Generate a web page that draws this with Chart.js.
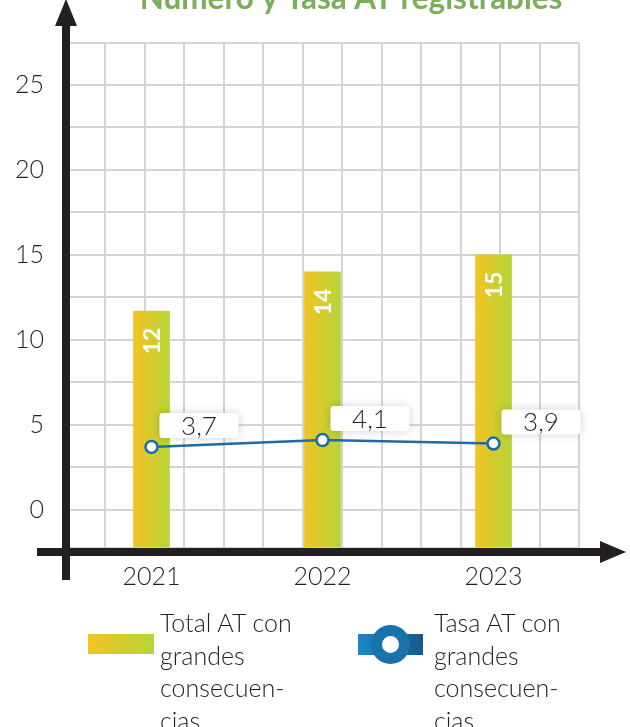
<!DOCTYPE html>
<html>
<head>
<meta charset="utf-8">
<script src="https://cdn.jsdelivr.net/npm/chart.js@4.4.0/dist/chart.umd.min.js"></script>
<style>
    body { margin: 0; background: #fff; }
    #wrap { position: relative; width: 630px; height: 727px; overflow: hidden; font-family: Lato, sans-serif; font-weight: 300; color: #231f20; }
    #chart { position: absolute; left: 0; top: 0; }
    .leg-text { position: absolute; top: 606px; font-size: 25px; line-height: 32.5px; white-space: nowrap; }
    .leg-icon { position: absolute; }
</style>
</head>
<body>
<div id="wrap">
    <canvas id="chart" width="630" height="727"></canvas>
</div>
<script>
// Data
const years = ['2021', '2022', '2023'];
const totalAT = [11.7, 14, 15];      // bars, labelled rounded
const tasaAT = [3.7, 4.1, 3.9];      // line
const yMin = -2.25;
const yMax = 27.5;
const yStep = 2.5;
const titleText = 'Número y Tasa AT registrables';
const legendLines = [
    ['Total AT con', 'grandes', 'consecuen-', 'cias'],
    ['Tasa AT con', 'grandes', 'consecuen-', 'cias']
];

const ink = '#231f20';
const gridColor = '#d4d4d4';
const lineBlue = '#1a6da6';

// Bar fill: yellow -> green, left to right across each bar
function barGradient(c) {
    const chart = c.chart;
    const x = chart.scales.x;
    if (!x || !chart.chartArea || c.dataIndex === undefined) return '#d8cc2e';
    const cx = x.getPixelForValue(c.dataIndex);
    const g = chart.ctx.createLinearGradient(cx - 18, 0, cx + 18, 0);
    g.addColorStop(0, '#f2c422');
    g.addColorStop(1, '#b7d43a');
    return g;
}

// Thick black axes with arrow heads + clipped title
const axesPlugin = {
    id: 'axesPlugin',
    afterDatasetsDraw(chart) {
        const ctx = chart.ctx;
        const a = chart.chartArea;
        const x0 = a.left, y0 = a.bottom + 4;
        ctx.save();
        ctx.fillStyle = ink;
        // vertical axis
        ctx.fillRect(x0 - 4, 20, 8, 580 - 20);
        ctx.beginPath();
        ctx.moveTo(x0, -1);
        ctx.lineTo(x0 - 11, 26);
        ctx.lineTo(x0 + 11, 26);
        ctx.closePath();
        ctx.fill();
        // horizontal axis
        ctx.fillRect(37, y0 - 4, 565, 8);
        ctx.beginPath();
        ctx.moveTo(626, y0);
        ctx.lineTo(600, y0 - 11);
        ctx.lineTo(600, y0 + 11);
        ctx.closePath();
        ctx.fill();

        // title, mostly cut off by the top edge
        let size = 30;
        ctx.font = `bold ${size}px Lato, sans-serif`;
        size = size * 423 / ctx.measureText(titleText).width;
        ctx.font = `bold ${size}px Lato, sans-serif`;
        ctx.fillStyle = '#7bae5a';
        ctx.textAlign = 'center';
        ctx.textBaseline = 'alphabetic';
        ctx.fillText(titleText, 351, 9);
        ctx.restore();
    }
};

// Value labels: rotated white numbers in bars, white boxes for the line
const labelsPlugin = {
    id: 'labelsPlugin',
    afterDraw(chart) {
        const ctx = chart.ctx;
        ctx.save();
        const bars = chart.getDatasetMeta(0).data;
        bars.forEach((el, i) => {
            ctx.save();
            ctx.translate(el.x + 1, el.y + 30);
            ctx.rotate(-Math.PI / 2);
            ctx.font = 'bold 23px Lato, sans-serif';
            ctx.fillStyle = '#ffffff';
            ctx.textAlign = 'center';
            ctx.textBaseline = 'middle';
            ctx.fillText(String(Math.round(totalAT[i])), 0, 0);
            ctx.restore();
        });

        const pts = chart.getDatasetMeta(1).data;
        pts.forEach((pt, i) => {
            const bw = 79, bh = 25;
            const bx = pt.x + 8, by = pt.y - 9 - bh;
            ctx.save();
            ctx.shadowColor = 'rgba(0,0,0,0.18)';
            ctx.shadowBlur = 10;
            ctx.fillStyle = '#ffffff';
            ctx.beginPath();
            ctx.roundRect(bx, by, bw, bh, 3);
            ctx.fill();
            ctx.restore();
            ctx.font = '300 26px Lato, sans-serif';
            ctx.fillStyle = ink;
            ctx.textAlign = 'center';
            ctx.textBaseline = 'middle';
            ctx.fillText(tasaAT[i].toFixed(1).replace('.', ','), bx + bw / 2, by + bh / 2 + 1);
        });
        ctx.restore();
    }
};

const ctx = document.getElementById('chart').getContext('2d');

const chart = new Chart(ctx, {
    type: 'bar',
    data: {
        labels: years,
        datasets: [{
            label: 'Total AT con grandes consecuencias',
            data: totalAT,
            base: yMin,
            backgroundColor: barGradient,
            barThickness: 36,
            order: 1
        }, {
            type: 'line',
            label: 'Tasa AT con grandes consecuencias',
            data: tasaAT,
            borderColor: lineBlue,
            borderWidth: 2.5,
            pointRadius: 6,
            pointBorderWidth: 2.5,
            pointBackgroundColor: '#ffffff',
            pointBorderColor: lineBlue,
            tension: 0,
            order: 0
        }]
    },
    options: {
        responsive: false,
        animation: false,
        layout: {
            padding: { left: 0, right: 51, top: 42.5, bottom: 0 }
        },
        plugins: {
            legend: { display: false },
            tooltip: { enabled: false }
        },
        scales: {
            x: {
                position: 'bottom',
                grid: { display: false, drawTicks: false },
                border: { display: false },
                ticks: {
                    color: ink,
                    padding: 14,
                    font: { family: 'Lato', size: 25, weight: '300' }
                },
                afterFit: (s) => { s.height = 179; }
            },
            xg: {
                type: 'linear',
                position: 'bottom',
                min: 0,
                max: 12,
                ticks: { display: false, stepSize: 1 },
                grid: { color: gridColor, lineWidth: 2, drawTicks: false },
                border: { display: false },
                afterFit: (s) => { s.height = 0; }
            },
            y: {
                min: yMin,
                max: yMax,
                grid: { color: gridColor, lineWidth: 2, drawTicks: false },
                border: { display: false },
                ticks: {
                    stepSize: yStep,
                    color: ink,
                    padding: 22,
                    font: { family: 'Lato', size: 25, weight: '300' },
                    callback: (v) => (v >= 0 && v % 5 === 0) ? v : ''
                },
                afterFit: (s) => { s.width = 66; }
            }
        }
    },
    plugins: [axesPlugin, labelsPlugin]
});

// HTML legend built from the dataset labels
const wrap = document.getElementById('wrap');
const legendPos = [{ icon: 88, text: 160 }, { icon: 358, text: 434 }];
chart.data.datasets.forEach((ds, i) => {
    const icon = document.createElement('div');
    icon.className = 'leg-icon';
    icon.title = ds.label;
    if (i === 0) {
        Object.assign(icon.style, {
            left: '88px', top: '634px', width: '66px', height: '20px',
            background: 'linear-gradient(to right, #f2c422, #b7d43a)'
        });
    } else {
        Object.assign(icon.style, {
            left: '358px', top: '634px', width: '65px', height: '21px',
            background: 'linear-gradient(to right, #1b88c4, #145a8b)'
        });
        const ring = document.createElement('div');
        Object.assign(ring.style, {
            position: 'absolute', left: '13px', top: '-9px', width: '39px', height: '39px',
            borderRadius: '50%', boxSizing: 'border-box', border: '11px solid #1873ab',
            background: '#ffffff'
        });
        icon.appendChild(ring);
    }
    wrap.appendChild(icon);

    const txt = document.createElement('div');
    txt.className = 'leg-text';
    txt.style.left = legendPos[i].text + 'px';
    txt.innerHTML = legendLines[i].join('<br>');
    wrap.appendChild(txt);
});
</script>
</body>
</html>
